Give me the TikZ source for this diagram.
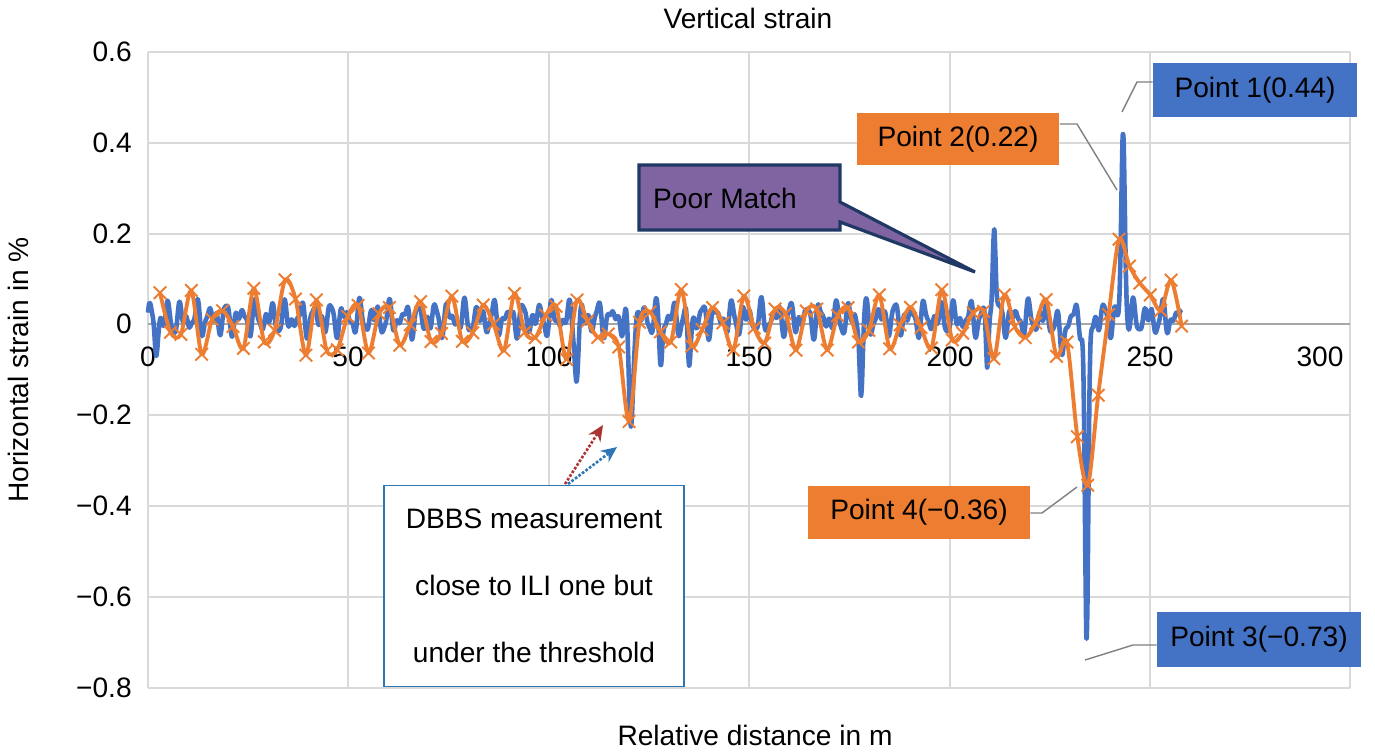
\documentclass[tikz,border=0pt]{standalone}
\usepackage{fontspec}
\setmainfont{Liberation Sans}
\usetikzlibrary{arrows.meta}
\definecolor{cblue}{RGB}{68,114,196}
\definecolor{corange}{RGB}{237,125,49}
\definecolor{cgrid}{RGB}{217,217,217}
\definecolor{cpurple}{RGB}{128,100,162}
\definecolor{cnavy}{RGB}{31,56,100}
\definecolor{cbord}{RGB}{46,117,182}
\begin{document}
\begin{tikzpicture}[x=0.02cm,y=-0.02cm,font=\fontsize{16}{19}\selectfont,
  declare function={g(\a,\c,\s)=exp(-(min(abs((\a-\c)/\s),6))^2);
    ss(\a,\p,\q)=sin(360*frac(\a/\p+\q));},
  gridl/.style={cgrid,line width=1.4pt},
  lbl/.style={inner sep=0pt},
  boxb/.style={fill=cblue,minimum width=4.08cm,minimum height=1.1cm,text=black},
  boxo/.style={fill=corange,text=black,minimum height=1.06cm},
  leader/.style={gray,line width=0.8pt}]
\useasboundingbox (0,0) rectangle (1375,754);
\fill[white] (0,0) rectangle (1375,754);
% grid
\foreach \yy in {52,143,234,415,506,597,688} \draw[gridl] (148,\yy) -- (1350,\yy);
\foreach \xx in {148,348,549,749,950,1150,1350} \draw[gridl] (\xx,52) -- (\xx,688);
\draw[gray!70,line width=1.4pt] (148,324) -- (1350,324);
% tick labels
\foreach \yy/\t in {52/0.6,143/0.4,234/0.2,324/0,415/−0.2,506/−0.4,597/−0.6,688/−0.8}
  \node[lbl,anchor=east] (yt\yy) at (132,\yy) {\t};
\foreach \xx/\t in {148/0,348/50,549/100,749/150,950/200,1150/250,1320/300}
  \node[lbl] (xt\xx) at (\xx,357) {\t};
\node[lbl] (title) at (748,18) {Vertical strain};
\node[lbl,rotate=90] (ylab) at (18,370) {Horizontal strain in \%};
\node[lbl] (xlab) at (755,735) {Relative distance in m};
% data
\begin{scope}[shift={(148,324)},x=0.08014cm,y=9.086cm]
\draw[cblue,line width=2.6pt,line join=round] plot[domain=0:258,samples=1000,smooth] (\x,
 {0.012+0.022*ss(\x,3.711,0)+0.016*ss(\x,2.384,0.055)+0.01*ss(\x,1.545,0.14)
 -0.07*g(\x,2,0.5)-0.12*g(\x,107,0.6)-0.24*g(\x,120.5,0.7)-0.09*g(\x,128,0.5)
 -0.1*g(\x,135,0.5)-0.16*g(\x,178,0.5)-0.1*g(\x,209.5,0.4)+0.23*g(\x,211.2,0.5)
 -0.06*g(\x,228,1)-0.73*g(\x,234.3,0.6)+0.42*g(\x,243.4,0.6)});
\draw[corange,line width=2.2pt,line join=round,mark=x,mark size=5pt,
  mark options={line width=1.1pt}] plot[domain=3:258,samples=99,smooth] (\x,
 {(1-g(\x,238,8))*(0.055*ss(\x,8.182,0)+0.025*ss(\x,5.070,0.083))
 +0.05*g(\x,3,2)+0.08*g(\x,35,2)-0.06*g(\x,45,2)-0.17*g(\x,119,2.5)
 -0.36*g(\x,234,3.5)+0.21*g(\x,243,2.5)+0.08*g(\x,251,5)});
\end{scope}
% point boxes
\node[boxb] (p1) at (1255,90) {Point 1(0.44)};
\node[boxb] (p3) at (1259,639) {Point 3(−0.73)};
\node[boxo,minimum width=4.06cm] (p2) at (958,139) {Point 2(0.22)};
\node[boxo,minimum width=4.44cm] (p4) at (919,512) {Point 4(−0.36)};
\coordinate (t1) at (1122,112); \coordinate (t2) at (1117,190);
\coordinate (t3) at (1085,660); \coordinate (t4) at (1077,487);
\draw[leader] (t1) -- (1137,82) -- (p1.west |- 0,82);
\draw[leader] (p2.east |- 0,124) -- (1077,124) -- (t2);
\draw[leader] (p3.west |- 0,645) -- (1133,645) -- (t3);
\draw[leader] (p4.east |- 0,513) -- (1042,513) -- (t4);
% poor match callout
\coordinate (pm) at (975,272);
\draw[fill=cpurple,draw=cnavy,line width=1.8pt] (639,165) -- (840,165) -- (840,202) -- (pm) -- (840,222) -- (840,230) -- (639,230) -- cycle;
\node[lbl] (poor) at (725,198) {Poor Match};
% DBBS box
\node[draw=cbord,line width=1pt,fill=white,minimum width=6cm,minimum height=4.02cm,align=center,font=\fontsize{16}{38}\selectfont] (dbbs) at (534,586) {DBBS measurement\\close to ILI one but\\under the threshold};
\coordinate (ar) at (603,425); \coordinate (ab) at (617,447);
\coordinate (s1) at (565,484); \coordinate (s2) at (568,484);
\draw[red!60!black!80,line width=1.5pt,dash pattern=on 1.5pt off 1pt,-{Stealth[length=9pt,width=8pt]}] (s1) -- (ar);
\draw[cbord,line width=1.5pt,dash pattern=on 1.5pt off 1pt,-{Stealth[length=9pt,width=8pt]}] (s2) -- (ab);
\end{tikzpicture}
\end{document}
